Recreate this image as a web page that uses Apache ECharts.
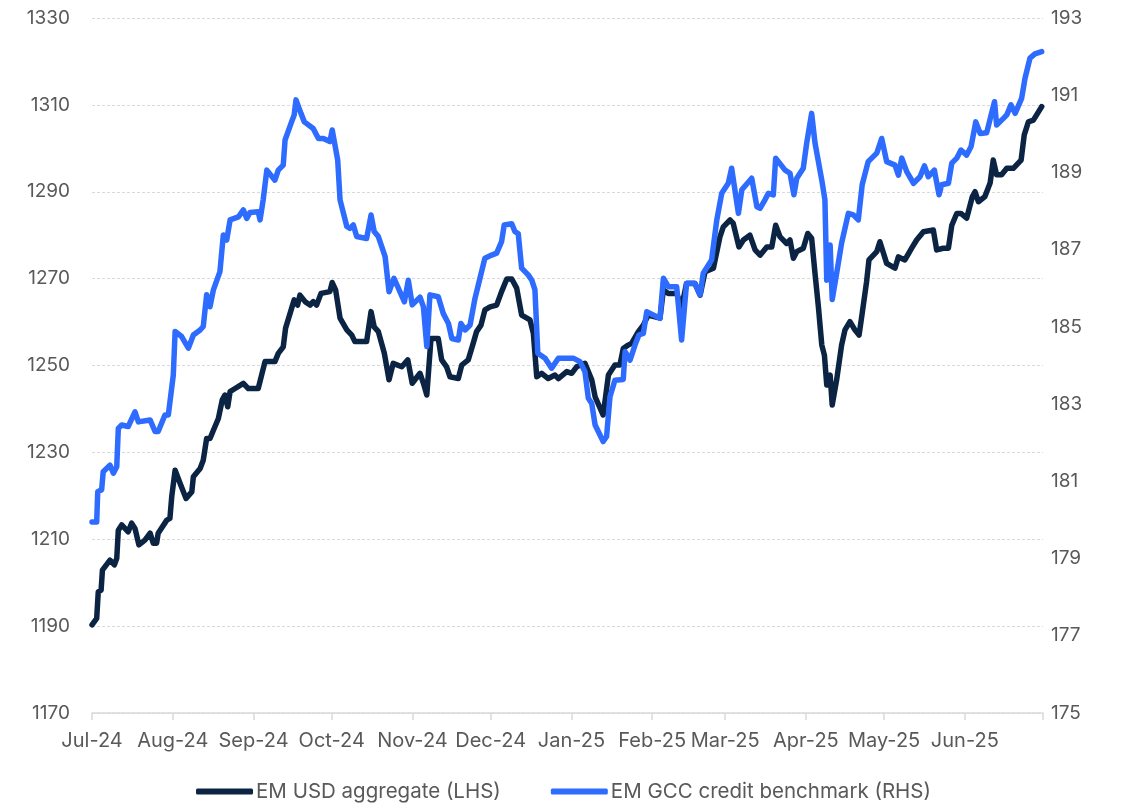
<!DOCTYPE html>
<html>
<head>
<meta charset="utf-8">
<script src="https://cdn.jsdelivr.net/npm/echarts@6/dist/echarts.min.js"></script>
<style>
  html, body { margin: 0; padding: 0; background: #fff; }
  #chart { width: 1127px; height: 808px; }
</style>
</head>
<body>
<div id="chart"></div>
<script>
// month starts, counted in days from 2024-07-01
const monthTicks = [0, 31, 62, 92, 123, 153, 184, 215, 243, 274, 304, 335, 365];
const monthLabels = ['Jul-24', 'Aug-24', 'Sep-24', 'Oct-24', 'Nov-24', 'Dec-24', 'Jan-25',
  'Feb-25', 'Mar-25', 'Apr-25', 'May-25', 'Jun-25', ''];

const leftTicks = [1170, 1330, 20];   // min, max, step
const rightTicks = [175, 193, 2];

// EM USD aggregate (LHS)
const usdDays = [0, 1.8, 2.4, 3.5, 4.0, 6.9, 8.6, 9.5, 10.1, 11.4,
  13.9, 15.2, 16.5, 18.0, 20.3, 22.3, 23.5, 24.8, 25.4, 28.7,
  29.9, 30.6, 31.9, 33.8, 36.1, 38.3, 38.9, 41.5, 42.7, 44.0,
  45.3, 46.6, 48.5, 50.0, 51.0, 52.1, 53.0, 54.9, 58.1, 60.0,
  63.8, 66.4, 70.2, 71.5, 73.4, 74.3, 77.6, 78.9, 79.8, 81.8,
  83.7, 84.9, 86.2, 87.9, 91.3, 92.2, 93.5, 95.2, 97.8, 99.7,
  100.9, 105.4, 107.1, 108.3, 109.9, 112.2, 114.0, 115.6, 118.9, 121.2,
  122.9, 125.9, 127.2, 128.5, 130.1, 132.9, 134.2, 136.1, 137.4, 140.6,
  141.9, 144.4, 146.3, 147.6, 149.3, 150.8, 152.8, 155.3, 157.2, 159.2,
  161.1, 163.0, 164.9, 168.1, 169.4, 170.7, 172.6, 175.1, 177.7, 179.0,
  182.2, 184.1, 186.0, 189.2, 191.8, 193.1, 196.2, 198.2, 200.7, 202.6,
  203.9, 205.8, 207.1, 209.7, 211.6, 213.5, 218.0, 219.3, 221.2, 224.4,
  226.3, 228.2, 231.4, 233.4, 235.3, 238.5, 241.0, 242.3, 244.9, 246.1,
  248.3, 250.0, 252.5, 254.5, 256.4, 259.0, 260.9, 262.4, 264.1, 266.6,
  267.9, 269.2, 270.5, 273.0, 274.7, 276.2, 277.5, 278.8, 280.1, 281.1,
  282.0, 283.3, 284.1, 285.8, 287.7, 289.0, 290.9, 292.8, 294.4, 295.6,
  297.3, 298.2, 301.2, 302.4, 305.0, 308.2, 309.5, 312.0, 314.6, 316.5,
  319.1, 322.9, 324.2, 326.7, 328.7, 330.0, 331.9, 333.5, 335.7, 337.9,
  338.9, 340.2, 342.7, 344.7, 345.9, 347.2, 349.1, 351.1, 353.6, 356.6,
  357.8, 359.4, 361.3, 364.5];
const usdValues = [1190.3, 1191.8, 1197.9, 1198.3, 1202.9, 1205.2, 1204.1, 1205.6, 1212.1, 1213.3,
  1211.7, 1213.7, 1212.5, 1208.7, 1209.8, 1211.4, 1209.1, 1209.1, 1211.4, 1214.4,
  1214.8, 1219.8, 1225.9, 1222.9, 1219.4, 1220.9, 1224.4, 1226.3, 1228.2, 1233.2,
  1233.2, 1235.1, 1237.8, 1242.1, 1243.2, 1240.5, 1244.0, 1244.7, 1245.9, 1244.7,
  1244.7, 1250.9, 1250.9, 1252.8, 1254.3, 1258.6, 1265.1, 1263.9, 1266.2, 1264.7,
  1263.9, 1264.7, 1263.9, 1266.6, 1267.0, 1269.1, 1267.4, 1260.9, 1258.2, 1257.0,
  1255.5, 1255.5, 1262.4, 1258.9, 1257.8, 1252.8, 1246.7, 1250.5, 1249.7, 1251.3,
  1245.9, 1248.2, 1245.9, 1243.2, 1256.2, 1256.2, 1251.3, 1249.7, 1247.4, 1247.0,
  1250.1, 1251.3, 1255.1, 1257.8, 1259.3, 1262.8, 1263.5, 1263.9, 1267.0, 1269.9,
  1269.9, 1267.8, 1261.6, 1260.5, 1257.4, 1247.4, 1248.2, 1247.0, 1247.8, 1247.0,
  1248.6, 1248.2, 1249.7, 1250.5, 1246.7, 1242.8, 1238.6, 1247.8, 1250.1, 1250.1,
  1253.9, 1254.7, 1255.1, 1257.8, 1259.3, 1261.6, 1260.9, 1267.4, 1266.6, 1266.6,
  1263.5, 1268.9, 1268.9, 1266.2, 1271.6, 1272.4, 1279.6, 1281.9, 1283.5, 1282.7,
  1277.3, 1278.9, 1280.0, 1276.6, 1275.4, 1277.3, 1277.3, 1282.3, 1279.6, 1278.1,
  1278.9, 1274.7, 1276.2, 1277.0, 1280.4, 1279.3, 1271.2, 1263.5, 1254.7, 1252.4,
  1245.5, 1247.8, 1240.9, 1246.7, 1254.7, 1258.2, 1260.1, 1258.2, 1257.0, 1262.0,
  1269.3, 1274.3, 1276.2, 1278.5, 1273.5, 1272.4, 1275.0, 1274.3, 1277.0, 1278.9,
  1280.8, 1281.2, 1276.6, 1277.0, 1277.0, 1282.3, 1285.0, 1285.0, 1283.9, 1288.9,
  1290.0, 1287.7, 1288.9, 1292.0, 1297.3, 1293.9, 1293.9, 1295.4, 1295.4, 1297.3,
  1303.1, 1306.1, 1306.5, 1309.6];

// EM GCC credit benchmark (RHS)
const gccDays = [0, 1.8, 2.2, 3.7, 4.3, 6.9, 8.2, 9.5, 10.1, 11.4,
  13.9, 16.5, 17.8, 22.3, 24.2, 25.4, 28.0, 29.3, 31.2, 31.9,
  34.4, 37.0, 38.9, 41.5, 42.7, 44.0, 45.3, 46.6, 49.1, 50.4,
  51.7, 53.0, 56.2, 58.1, 59.4, 60.6, 63.8, 64.5, 65.7, 67.1,
  70.2, 71.5, 73.4, 74.1, 76.6, 77.6, 78.3, 80.2, 81.5, 84.9,
  86.9, 88.8, 91.3, 92.2, 93.0, 94.3, 95.2, 97.8, 99.0, 100.3,
  101.6, 105.4, 107.1, 108.3, 109.9, 112.5, 114.0, 115.9, 119.9, 121.4,
  122.9, 125.9, 127.2, 128.5, 129.7, 132.9, 134.8, 136.8, 138.1, 140.6,
  141.6, 143.2, 145.1, 147.0, 148.9, 150.8, 153.4, 155.3, 157.2, 158.2,
  161.1, 162.3, 163.6, 164.9, 167.5, 168.8, 170.0, 171.1, 173.9, 176.4,
  179.0, 184.7, 187.3, 189.2, 190.5, 191.8, 193.1, 196.2, 197.5, 198.8,
  200.7, 203.9, 204.6, 206.5, 208.4, 209.9, 211.6, 212.9, 215.4, 218.0,
  219.3, 221.2, 224.4, 226.3, 228.2, 231.4, 233.4, 234.6, 237.8, 239.8,
  241.7, 244.2, 245.5, 248.1, 249.4, 253.2, 255.2, 256.4, 258.3, 259.6,
  261.5, 262.4, 266.0, 267.9, 269.4, 270.5, 273.0, 274.3, 276.2, 277.5,
  280.1, 281.3, 282.0, 283.3, 284.1, 285.8, 287.7, 290.3, 292.2, 294.1,
  295.6, 297.9, 301.2, 303.1, 305.0, 308.2, 309.5, 310.8, 312.7, 315.3,
  317.8, 319.5, 321.0, 323.3, 325.1, 326.1, 328.7, 330.0, 331.9, 333.5,
  335.7, 337.4, 339.2, 340.9, 343.4, 345.1, 346.4, 347.2, 349.8, 351.1,
  352.7, 354.3, 356.8, 358.1, 360.0, 361.9, 364.5];
const gccValues = [179.95, 179.95, 180.73, 180.78, 181.25, 181.42, 181.21, 181.38, 182.37, 182.46,
  182.42, 182.80, 182.54, 182.59, 182.29, 182.29, 182.72, 182.72, 183.75, 184.88,
  184.75, 184.45, 184.79, 184.92, 185.01, 185.83, 185.52, 185.96, 186.43, 187.38,
  187.25, 187.77, 187.85, 188.03, 187.81, 187.96, 187.98, 187.77, 188.29, 189.06,
  188.80, 189.06, 189.19, 189.84, 190.31, 190.49, 190.88, 190.53, 190.31, 190.14,
  189.88, 189.88, 189.80, 190.10, 189.80, 189.32, 188.29, 187.60, 187.55, 187.64,
  187.34, 187.29, 187.90, 187.47, 187.34, 186.82, 185.91, 186.26, 185.65, 186.21,
  185.57, 185.77, 185.52, 184.49, 185.83, 185.78, 185.35, 185.09, 184.70, 184.66,
  185.09, 184.92, 185.05, 185.74, 186.26, 186.78, 186.86, 186.91, 187.21, 187.64,
  187.67, 187.47, 187.41, 186.52, 186.34, 186.21, 185.96, 184.32, 184.19, 183.93,
  184.19, 184.19, 184.10, 183.84, 183.15, 183.02, 182.46, 182.03, 182.16, 183.19,
  183.62, 183.64, 184.36, 184.14, 184.53, 184.79, 184.83, 185.39, 185.31, 185.22,
  186.26, 186.04, 186.04, 184.66, 186.13, 186.13, 185.83, 186.39, 186.73, 187.77,
  188.46, 188.72, 189.11, 187.94, 188.55, 188.85, 188.11, 188.07, 188.29, 188.46,
  188.42, 189.37, 189.06, 188.98, 188.42, 188.85, 189.11, 189.76, 190.53, 189.76,
  188.80, 188.29, 186.21, 187.12, 185.71, 186.39, 187.17, 187.94, 187.90, 187.77,
  188.68, 189.28, 189.50, 189.88, 189.28, 189.19, 188.93, 189.37, 189.02, 188.72,
  188.89, 189.17, 188.89, 189.06, 188.42, 188.68, 188.72, 189.24, 189.37, 189.58,
  189.45, 189.67, 190.31, 190.01, 190.03, 190.49, 190.83, 190.23, 190.40, 190.49,
  190.75, 190.53, 190.92, 191.44, 191.96, 192.07, 192.13];

const FONT = 'Inter, "Noto Sans", sans-serif';
const TEXT_COLOR = '#595959';

const chart = echarts.init(document.getElementById('chart'), null, { renderer: 'canvas' });

let option = {
  animation: false,
  backgroundColor: '#fff',
  textStyle: { fontFamily: FONT, color: TEXT_COLOR },
  grid: { left: 92, right: 84, top: 18, bottom: 95 },
  legend: {
    bottom: 1,
    left: 'center',
    icon: 'roundRect',
    itemWidth: 57,
    itemHeight: 6,
    itemGap: 50,
    textStyle: { fontFamily: FONT, fontSize: 20.5, color: TEXT_COLOR, padding: [0, 0, 0, -2] },
    data: ['EM USD aggregate (LHS)', 'EM GCC credit benchmark (RHS)']
  },
  xAxis: {
    type: 'value',
    min: monthTicks[0],
    max: monthTicks[monthTicks.length - 1],
    axisLine: { show: true, lineStyle: { color: '#d9d9d9', width: 1.5 } },
    axisTick: { show: true, length: 7, lineStyle: { color: '#d9d9d9', width: 1.5 }, customValues: monthTicks },
    axisLabel: {
      customValues: monthTicks,
      margin: 18,
      fontFamily: FONT,
      fontSize: 20,
      color: TEXT_COLOR,
      formatter: function (v) {
        let i = monthTicks.indexOf(v);
        return i >= 0 ? monthLabels[i] : '';
      }
    },
    splitLine: { show: false }
  },
  yAxis: [
    {
      type: 'value',
      min: leftTicks[0],
      max: leftTicks[1],
      interval: leftTicks[2],
      axisLine: { show: false },
      axisTick: { show: false },
      axisLabel: { margin: 22, fontFamily: FONT, fontSize: 19, color: TEXT_COLOR, formatter: v => String(v) },
      splitLine: { show: true, lineStyle: { color: '#d9d9d9', type: [3, 2], width: 1 } }
    },
    {
      type: 'value',
      min: rightTicks[0],
      max: rightTicks[1],
      interval: rightTicks[2],
      axisLine: { show: false },
      axisTick: { show: false },
      axisLabel: { margin: 8, fontFamily: FONT, fontSize: 19, color: TEXT_COLOR, formatter: v => String(v) },
      splitLine: { show: false }
    }
  ],
  series: [
    {
      name: 'EM USD aggregate (LHS)',
      type: 'line',
      yAxisIndex: 0,
      showSymbol: false,
      symbol: 'none',
      color: '#0c2444',
      lineStyle: { width: 5.5, color: '#0c2444', join: 'round', cap: 'round' },
      data: usdDays.map((d, i) => [d, usdValues[i]])
    },
    {
      name: 'EM GCC credit benchmark (RHS)',
      type: 'line',
      yAxisIndex: 1,
      showSymbol: false,
      symbol: 'none',
      color: '#2e6bff',
      lineStyle: { width: 5.5, color: '#2e6bff', join: 'round', cap: 'round' },
      data: gccDays.map((d, i) => [d, gccValues[i]])
    }
  ]
};

chart.setOption(option);
</script>
</body>
</html>
